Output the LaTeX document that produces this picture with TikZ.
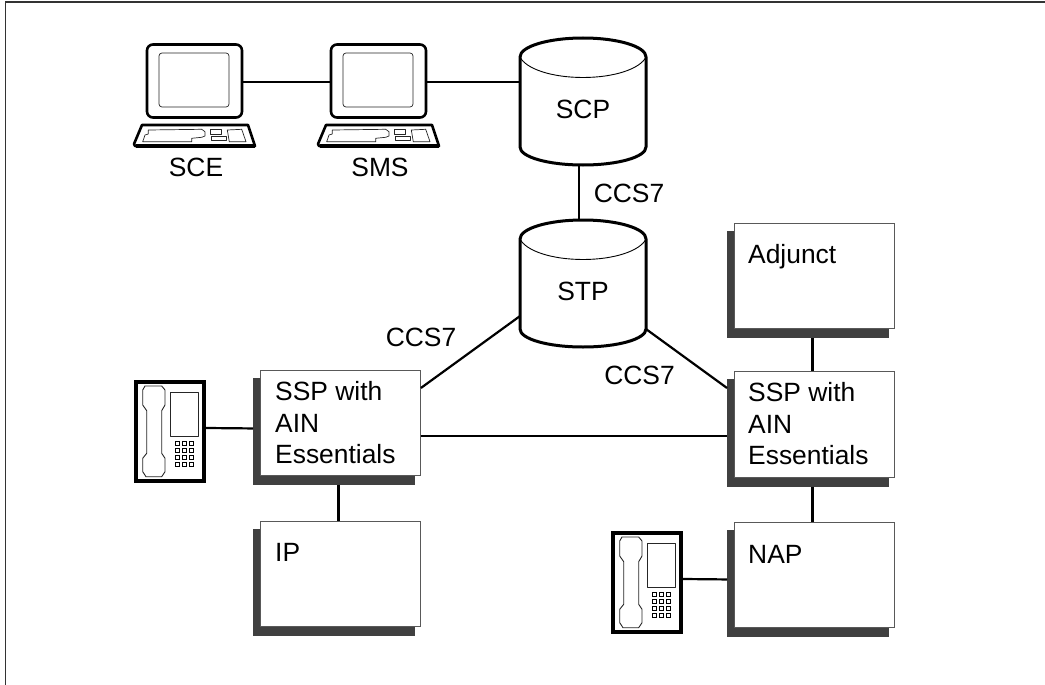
\documentclass[tikz,border=0pt]{standalone}
\usepackage{fontspec}
\setmainfont{Liberation Sans}
\definecolor{shadegray}{gray}{0.25}
\tikzset{
  x=1pt,y=-1pt,
  conn/.style={line width=2.2pt,black},
  lab/.style={font=\fontsize{26.4}{31.7}\selectfont,inner sep=0pt,align=left},
  plainbox/.style={draw=black!65,line width=0.9pt,fill=white,minimum width=160pt,minimum height=105pt,inner sep=0pt,anchor=north west},
  heavy/.style={line width=2.6pt,black,line join=round},
  fine/.style={line width=0.7pt,black!85,line join=round},
  pics/monitor/.style={code={
    \node[draw=black,line width=2.6pt,rounded corners=6pt,fill=white,minimum width=95pt,minimum height=73pt,inner sep=0pt] (-mon) at (48.5,37) {};
    \draw[fine,rounded corners=3pt] (13,9) rectangle (83,63);
    \draw[heavy,fill=white] (-4,81) -- (102,81) -- (109,102) -- (-11,102) -- (-12,100) -- cycle;
    \draw[line width=3.6pt,black] (-10.5,102.2) -- (108.5,102.2);
    \draw[fine] (-3.3,97.7) -- (-1,91) -- (2.3,90) -- (2.3,86) -- (55.7,85.3) -- (59,87.7) -- (59,92) -- (55.7,93.3) -- (45.7,94.3) -- (45.7,97.7) -- cycle;
    \draw[fine] (64.7,85.3) -- (75.7,85.3) -- (75.7,90) -- (64.7,90) -- cycle;
    \draw[fine] (65.7,92) -- (80.7,92) -- (80.7,96.7) -- (65.7,96.7) -- cycle;
    \draw[fine] (81.3,86) -- (95.7,85.3) -- (100,97.7) -- (83.3,97.7) -- cycle;
  }},
  pics/phone/.style={code={
    \node[draw=black,line width=4pt,fill=white,minimum width=68pt,minimum height=99pt,inner sep=0pt] (-ph) at (36,51.5) {};
    \draw[fine,line width=0.9pt] (11,6) -- (27.7,6) -- (31,10) -- (31,25) -- (27.7,30.7) -- (27.7,73.3) -- (31,78.3) -- (31,91.7) -- (27.7,96.7) -- (12,96.7) -- (8.7,91.7) -- (8.7,78.3) -- (12.7,73.3) -- (12.7,30.7) -- (8.7,25) -- (8.7,10) -- cycle;
    \draw[fine,line width=0.9pt] (36.7,12.3) rectangle (64.7,56.7);
    \foreach \i in {0,1,2,3} \foreach \j in {0,1,2}
      \draw[black,line width=0.7pt] (41+\j*7,61+\i*7) rectangle ++(4.5,4.5);
  }},
}
\newcommand{\cyl}[3]{% name, top y, text
  \node[minimum width=126pt,minimum height=127pt,inner sep=0pt] (#1) at (583,#2+63.5) {};
  \draw[line width=3pt,black,fill=white,line join=round] (520,#2+19)
    .. controls (520,#2+8.5) and (548,#2) .. (583,#2)
    .. controls (618,#2) and (646,#2+8.5) .. (646,#2+19)
    -- (646,#2+109)
    .. controls (646,#2+119) and (618,#2+127) .. (583,#2+127)
    .. controls (548,#2+127) and (520,#2+119) .. (520,#2+109) -- cycle;
  \draw[line width=0.9pt,black] (520,#2+19)
    .. controls (526,#2+31) and (552,#2+39.5) .. (583,#2+39.5)
    .. controls (614,#2+39.5) and (640,#2+31) .. (646,#2+19);
  \node[lab,anchor=base] at (583,#2+80) {#3};
}
\newcommand{\shbox}[4]{% name, x, y, height
  \fill[fill=shadegray] (#2-7,#3+8) rectangle (#2+155,#3+#4+10);
  \node[plainbox,minimum height=#4 pt] (#1) at (#2,#3) {};
}
\begin{document}
\begin{tikzpicture}
\useasboundingbox (0,0) rectangle (1045,685);
\draw[line width=1.2pt,black!80] (5.5,685) -- (5.5,2) -- (1045,2);

\pic (sce) at (146,44) {monitor};
\pic (sms) at (330,44) {monitor};
\node[lab,anchor=base] (scelab) at (196,176.5) {SCE};
\node[lab,anchor=base] (smslab) at (380,176.5) {SMS};

\cyl{scp}{38}{SCP}
\cyl{stp}{220}{STP}

\shbox{sspl}{260}{370}{105}
\shbox{sspr}{734}{371}{106}
\shbox{ip}{260}{521}{105}
\shbox{nap}{734}{522}{105}
\shbox{adj}{734}{223}{105}

\node[lab,anchor=north west] (t1) at (275,381) {SSP with\\AIN\\Essentials};
\node[lab,anchor=north west] (t2) at (748,382) {SSP with\\AIN\\Essentials};
\node[lab,anchor=base west] (t3) at (275,561) {IP};
\node[lab,anchor=base west] (t4) at (748,563) {NAP};
\node[lab,anchor=base west] (t5) at (748,263) {Adjunct};

\pic (pl) at (134,380) {phone};
\pic (pr) at (611,531) {phone};

\node[lab] (c1) at (629,193) {CCS7};
\node[lab] (c2) at (421,337) {CCS7};
\node[lab] (c3) at (639.5,375) {CCS7};

\draw[conn] ([yshift=-1pt]sce-mon.east) -- ([yshift=-1pt]sms-mon.west);
\draw[conn] ([yshift=-1pt]sms-mon.east) -- ([yshift=-1pt]sms-mon.east -| scp.west);
\draw[conn] ([xshift=-4pt]scp.south) -- ([xshift=-4pt]stp.north);
\draw[conn] ([yshift=31pt]stp.south west) -- ([yshift=-18pt]sspl.north east);
\draw[conn] ([yshift=18pt]stp.south east) -- ([xshift=-7pt,yshift=-17pt]sspr.north west);
\draw[conn] ([yshift=-13pt]sspl.east) -- ([xshift=-7pt,yshift=-11.5pt]sspr.west);
\draw[conn] ([yshift=3.5pt]pl-ph.east) -- ([xshift=-7pt,yshift=-5.5pt]sspl.west);
\draw[conn] ([yshift=3.5pt]pr-ph.east) -- ([xshift=-7pt,yshift=-4.5pt]nap.west);
\draw[conn] ([xshift=-2pt,yshift=-9pt]adj.south) -- ([xshift=-2pt]sspr.north);
\draw[conn] ([xshift=-2pt,yshift=-9pt]sspr.south) -- ([xshift=-2pt]nap.north);
\draw[conn] ([xshift=-2pt,yshift=-9pt]sspl.south) -- ([xshift=-2pt]ip.north);
\end{tikzpicture}
\end{document}
